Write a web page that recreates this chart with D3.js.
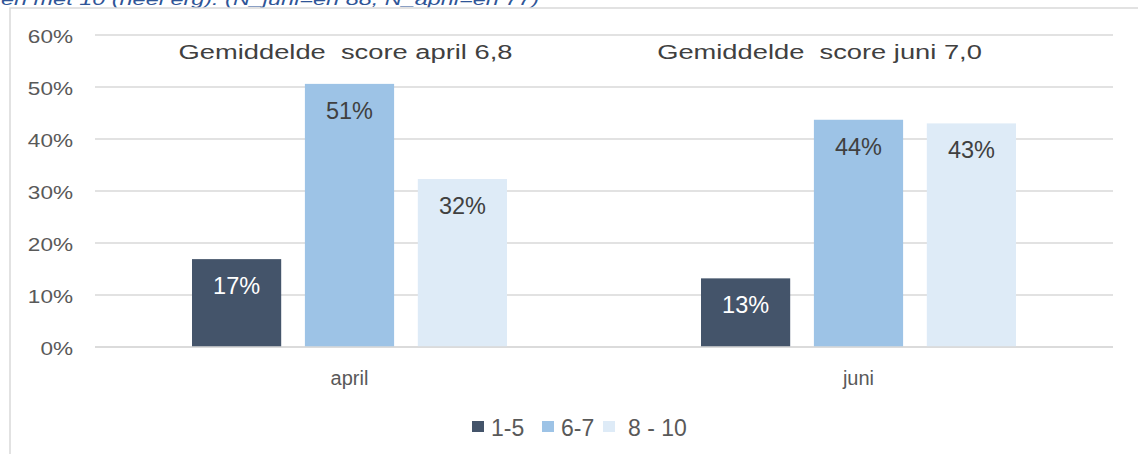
<!DOCTYPE html>
<html>
<head>
<meta charset="utf-8">
<script src="https://cdn.jsdelivr.net/npm/d3@7"></script>
<style>
  body { margin: 0; background: #fff; }
  svg { display: block; font-family: "Liberation Sans", Arial, sans-serif; }
</style>
</head>
<body>
<div id="main"></div>
<script>
let months = ["april", "juni"]
let groups = ["1-5", "6-7", "8 - 10"]
let valuesApril = [0.169, 0.506, 0.323]
let valuesJuni = [0.132, 0.437, 0.430]
let averages = ["Gemiddelde  score april 6,8", "Gemiddelde  score juni 7,0"]
let yTicks = [0, 0.1, 0.2, 0.3, 0.4, 0.5, 0.6]
let colors = ["#44546a", "#9dc3e6", "#deebf7"]

let W = 1138, H = 454
let margin = {top: 35, right: 25, bottom: 107, left: 95},
    width = W - margin.left - margin.right,
    height = H - margin.top - margin.bottom;

let data = months.map((m, i) => ({month: m, values: i === 0 ? valuesApril : valuesJuni}))

// text in the original is drawn a bit wider than normal, so stretch it horizontally
function placeText(sel, fx, fy, sx) {
    sel.attr("x", 0).attr("y", 0)
        .attr("transform", (d, i) => "translate(" + fx(d, i) + "," + fy(d, i) + ") scale(" + sx + ",1)")
}

let svg = d3.select("#main").append("svg")
    .attr("width", W)
    .attr("height", H)

// cut-off caption line above the chart
svg.append("text")
    .attr("fill", "#2f5597")
    .attr("font-style", "italic")
    .attr("font-size", "17px")
    .text("en met 10 (heel erg). (N_juni=en 88, N_april=en 77)")
    .call(placeText, () => 1, () => 5, 1.38)

// chart frame
svg.append("rect")
    .attr("x", 10)
    .attr("y", 8)
    .attr("width", W)
    .attr("height", H)
    .attr("fill", "#fff")
    .attr("stroke", "#d9d9d9")
    .attr("stroke-width", 1.5)

let g = svg.append("g")
    .attr("transform", "translate(" + margin.left + "," + margin.top + ")")

let x = d3.scaleBand()
    .domain(months)
    .range([0, width])

let xInner = d3.scaleBand()
    .domain(groups)
    .range([97, x.bandwidth() - 97])
    .paddingInner(0.21)

let y = d3.scaleLinear()
    .domain([0, 0.6])
    .range([height, 0])

// gridlines
g.selectAll("line.grid")
    .data(yTicks)
    .enter()
    .append("line")
    .attr("class", "grid")
    .attr("x1", 0)
    .attr("x2", width)
    .attr("y1", d => y(d))
    .attr("y2", d => y(d))
    .attr("stroke", "#d9d9d9")
    .attr("stroke-width", 1.3)

// y axis labels
let yAxis = g.append("g")
    .call(d3.axisLeft(y).tickValues(yTicks).tickFormat(d3.format(".0%")).tickSize(0))
yAxis.select(".domain").remove()
yAxis.selectAll("text")
    .attr("fill", "#595959")
    .attr("font-size", "18.5px")
    .attr("font-family", "Liberation Sans, Arial, sans-serif")
    .attr("dy", null)
    .call(placeText, () => -22, () => 7, 1.22)

// bars
let monthG = g.selectAll("g.month")
    .data(data)
    .enter()
    .append("g")
    .attr("class", "month")
    .attr("transform", d => "translate(" + x(d.month) + ",0)")

let bars = monthG.selectAll("g.bar")
    .data(d => d.values.map((v, i) => ({key: groups[i], value: v, idx: i})))
    .enter()
    .append("g")
    .attr("class", "bar")

bars.append("rect")
    .attr("x", d => xInner(d.key))
    .attr("y", d => y(d.value))
    .attr("width", xInner.bandwidth())
    .attr("height", d => height - y(d.value))
    .attr("fill", d => colors[d.idx])

bars.append("text")
    .attr("x", d => xInner(d.key) + xInner.bandwidth() / 2)
    .attr("y", d => y(d.value) + 35)
    .attr("text-anchor", "middle")
    .attr("font-size", "23.5px")
    .attr("fill", d => d.idx === 0 ? "#ffffff" : "#404040")
    .text(d => d3.format(".0%")(d.value))

// x axis line
g.append("line")
    .attr("x1", 0)
    .attr("x2", width)
    .attr("y1", height)
    .attr("y2", height)
    .attr("stroke", "#d9d9d9")
    .attr("stroke-width", 1.5)

// category labels
g.selectAll("text.cat")
    .data(months)
    .enter()
    .append("text")
    .attr("class", "cat")
    .attr("x", d => x(d) + x.bandwidth() / 2)
    .attr("y", height + 38)
    .attr("text-anchor", "middle")
    .attr("font-size", "20px")
    .attr("fill", "#595959")
    .text(d => d)

// averages annotations
g.selectAll("text.avg")
    .data(averages)
    .enter()
    .append("text")
    .attr("class", "avg")
    .attr("text-anchor", "middle")
    .attr("font-size", "19.5px")
    .attr("fill", "#404040")
    .style("white-space", "pre")
    .text(d => d)
    .call(placeText,
        (d, i) => i === 0 ? x(months[0]) + x.bandwidth() / 2 - 4 : x(months[1]) + x.bandwidth() / 2 - 39,
        () => y(0.6) + 24, 1.4)

// legend
let legend = svg.append("g")
    .attr("transform", "translate(472, 421)")
let legendX = [0, 70, 131]
let items = legend.selectAll("g")
    .data(groups)
    .enter()
    .append("g")
    .attr("transform", (d, i) => "translate(" + legendX[i] + ",0)")
items.append("rect")
    .attr("x", 0)
    .attr("y", 0)
    .attr("width", 12)
    .attr("height", 11)
    .attr("fill", (d, i) => colors[i])
items.append("text")
    .attr("x", (d, i) => i === 2 ? 25 : 19)
    .attr("y", 15)
    .attr("font-size", "23px")
    .attr("fill", "#595959")
    .text(d => d)
</script>
</body>
</html>
